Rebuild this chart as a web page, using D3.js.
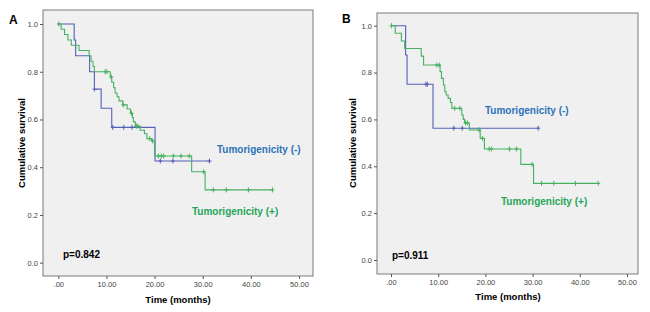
<!DOCTYPE html>
<html>
<head>
<meta charset="utf-8">
<script src="https://cdn.jsdelivr.net/npm/d3@7/dist/d3.min.js"></script>
<style>
  body { margin: 0; background: #fff; }
  svg { display: block; font-family: "Liberation Sans", Arial, sans-serif; }
</style>
</head>
<body>
<svg id="chart" width="650" height="312"></svg>
<script>
// panel A, Tumorigenicity (-)
var eventTimesA_neg = [3.3, 3.6, 6.5, 7.5, 8.9, 11.1, 20.1]
var survA_neg = [0.933, 0.867, 0.800, 0.727, 0.647, 0.567, 0.426]
var censorA_neg = [7.5, 11.3, 13.6, 15.3, 21.2, 23.8, 31.4]
var endA_neg = 31.4

// panel A, Tumorigenicity (+)
var eventTimesA_pos = [0.6, 1.3, 2.0, 2.7, 4.3, 6.4, 6.8, 7.2, 7.5, 10.8, 11.1, 11.5, 11.8, 12.2, 12.6,
                       13.4, 14.3, 15.0, 15.4, 15.6, 16.0, 17.0, 17.9, 18.4, 19.4, 20.0, 27.7, 30.5]
var survA_pos = [0.978, 0.956, 0.933, 0.911, 0.889, 0.867, 0.844, 0.822, 0.800, 0.778, 0.756, 0.733, 0.711, 0.695, 0.678,
                 0.661, 0.644, 0.626, 0.608, 0.590, 0.572, 0.555, 0.540, 0.520, 0.510, 0.447, 0.381, 0.305]
var censorA_pos = [0.1, 9.7, 10.1, 11.0, 13.5, 15.2, 16.2, 16.5, 19.0, 19.6, 20.8, 21.4, 21.9, 23.9, 25.5, 27.2,
                   30.2, 32.2, 34.9, 39.5, 44.5]
var endA_pos = 44.5

// panel B, Tumorigenicity (-)
var eventTimesB_neg = [3.1, 3.4, 8.9]
var survB_neg = [0.875, 0.750, 0.5625]
var censorB_neg = [7.4, 7.7, 13.3, 15.1, 31.2]
var endB_neg = 31.2

// panel B, Tumorigenicity (+)
var eventTimesB_pos = [0.9, 2.2, 2.9, 6.4, 6.9, 10.4, 10.7, 11.1, 11.4, 11.7, 12.1, 12.6, 12.9, 15.0, 15.3,
                       15.6, 16.6, 18.9, 19.8, 27.5, 30.2]
var survB_pos = [0.968, 0.935, 0.903, 0.870, 0.832, 0.804, 0.775, 0.747, 0.718, 0.704, 0.690, 0.672, 0.647, 0.619, 0.600,
                 0.585, 0.555, 0.519, 0.474, 0.408, 0.327]
var censorB_pos = [0.1, 9.7, 10.2, 13.5, 14.6, 15.8, 16.2, 18.7, 19.4, 20.8, 21.3, 25.1, 26.6, 29.9, 31.9, 34.5, 39.1, 43.9]
var endB_pos = 43.9

var yTicks = [0, 0.2, 0.4, 0.6, 0.8, 1.0]
var xTicks = [0, 10, 20, 30, 40, 50]
var panelLabels = ["A", "B"]
var pValues = ["p=0.842", "p=0.911"]
var legendLabels = ["Tumorigenicity (-)", "Tumorigenicity (+)"]

var negLine = "#5561b6"
var posLine = "#45b160"
var negText = "#2c72b8"
var posText = "#25a658"

var svg = d3.select("#chart")

var panels = [
    {
        label: panelLabels[0], p: pValues[0],
        box: {left: 43, right: 313, top: 10, bottom: 276},
        xRange: [58.3, 299], yRange: [262.7, 24],
        labelPos: [9, 24], pPos: [63, 258],
        yTitle: [25, 143], xTitle: [178, 303],
        negLegend: [217, 153], posLegend: [192, 215],
        neg: {t: eventTimesA_neg, s: survA_neg, c: censorA_neg, end: endA_neg},
        pos: {t: eventTimesA_pos, s: survA_pos, c: censorA_pos, end: endA_pos}
    },
    {
        label: panelLabels[1], p: pValues[1],
        box: {left: 377, right: 638, top: 13, bottom: 274},
        xRange: [391, 627], yRange: [260, 25.7],
        labelPos: [342, 23], pPos: [392, 259],
        yTitle: [356, 143], xTitle: [508, 300],
        negLegend: [485, 114], posLegend: [501, 205],
        neg: {t: eventTimesB_neg, s: survB_neg, c: censorB_neg, end: endB_neg},
        pos: {t: eventTimesB_pos, s: survB_pos, c: censorB_pos, end: endB_pos}
    }
]

// survival value at time t for a step curve
function survAt(series, t) {
    var s = 1
    series.t.forEach((et, i) => { if (et <= t) s = series.s[i] })
    return s
}

panels.forEach(function(p) {
    var g = svg.append("g")
    var xScale = d3.scaleLinear().domain([0, 50]).range(p.xRange)
    var yScale = d3.scaleLinear().domain([0, 1]).range(p.yRange)

    g.append("rect")
        .attr("x", p.box.left)
        .attr("y", p.box.top)
        .attr("width", p.box.right - p.box.left)
        .attr("height", p.box.bottom - p.box.top)
        .attr("fill", "#f0f0f0")
        .attr("stroke", "#7a7a7a")
        .attr("stroke-width", 1)

    //axes
    var yAxis = g.append("g")
        .attr("transform", `translate(${p.box.left},0)`)
        .call(d3.axisLeft(yScale).tickValues(yTicks).tickFormat(d3.format(".1f")).tickSize(3).tickPadding(2))
    var xAxis = g.append("g")
        .attr("transform", `translate(0,${p.box.bottom})`)
        .call(d3.axisBottom(xScale).tickValues(xTicks)
            .tickFormat(d => d === 0 ? ".00" : d3.format(".2f")(d)).tickSize(3).tickPadding(3))
    ;[yAxis, xAxis].forEach(ax => {
        ax.select(".domain").remove()
        ax.selectAll("line").attr("stroke", "#555")
        ax.selectAll("text").attr("font-size", 7.5).attr("fill", "#444")
            .attr("font-family", "'Liberation Sans', Arial, sans-serif")
    })

    var line = d3.line()
        .x(d => xScale(d[0]))
        .y(d => yScale(d[1]))
        .curve(d3.curveStepAfter)

    ;[[p.neg, negLine], [p.pos, posLine]].forEach(function(pair) {
        var series = pair[0], color = pair[1]
        var pts = [[0, 1]]
        series.t.forEach((t, i) => pts.push([t, series.s[i]]))
        pts.push([series.end, series.s[series.s.length - 1]])

        g.append("path")
            .attr("d", line(pts))
            .attr("fill", "none")
            .attr("stroke", color)
            .attr("stroke-width", 1.1)

        var marks = g.append("g").selectAll("g")
            .data(series.c)
            .enter()
            .append("g")
            .attr("transform", d => `translate(${xScale(d)},${yScale(survAt(series, d))})`)
        marks.append("line")
            .attr("x1", 0).attr("x2", 0).attr("y1", -2.5).attr("y2", 2.5)
            .attr("stroke", color).attr("stroke-width", 1)
        marks.append("line")
            .attr("x1", -2).attr("x2", 2).attr("y1", 0).attr("y2", 0)
            .attr("stroke", color).attr("stroke-width", 1)
    })

    g.append("text")
        .attr("x", p.labelPos[0]).attr("y", p.labelPos[1])
        .attr("font-size", 12).attr("font-weight", "bold")
        .text(p.label)

    g.append("text")
        .attr("x", p.pPos[0]).attr("y", p.pPos[1])
        .attr("font-size", 10).attr("font-weight", "bold")
        .text(p.p)

    g.append("text")
        .attr("text-anchor", "middle")
        .attr("transform", `translate(${p.yTitle[0]},${p.yTitle[1]}) rotate(-90)`)
        .attr("font-size", 9.5).attr("font-weight", "bold")
        .text("Cumulative survival")

    g.append("text")
        .attr("text-anchor", "middle")
        .attr("x", p.xTitle[0]).attr("y", p.xTitle[1])
        .attr("font-size", 9.5).attr("font-weight", "bold")
        .text("Time (months)")

    g.append("text")
        .attr("x", p.negLegend[0]).attr("y", p.negLegend[1])
        .attr("font-size", 10).attr("font-weight", "bold").attr("fill", negText)
        .text(legendLabels[0])

    g.append("text")
        .attr("x", p.posLegend[0]).attr("y", p.posLegend[1])
        .attr("font-size", 10).attr("font-weight", "bold").attr("fill", posText)
        .text(legendLabels[1])
})
</script>
</body>
</html>
